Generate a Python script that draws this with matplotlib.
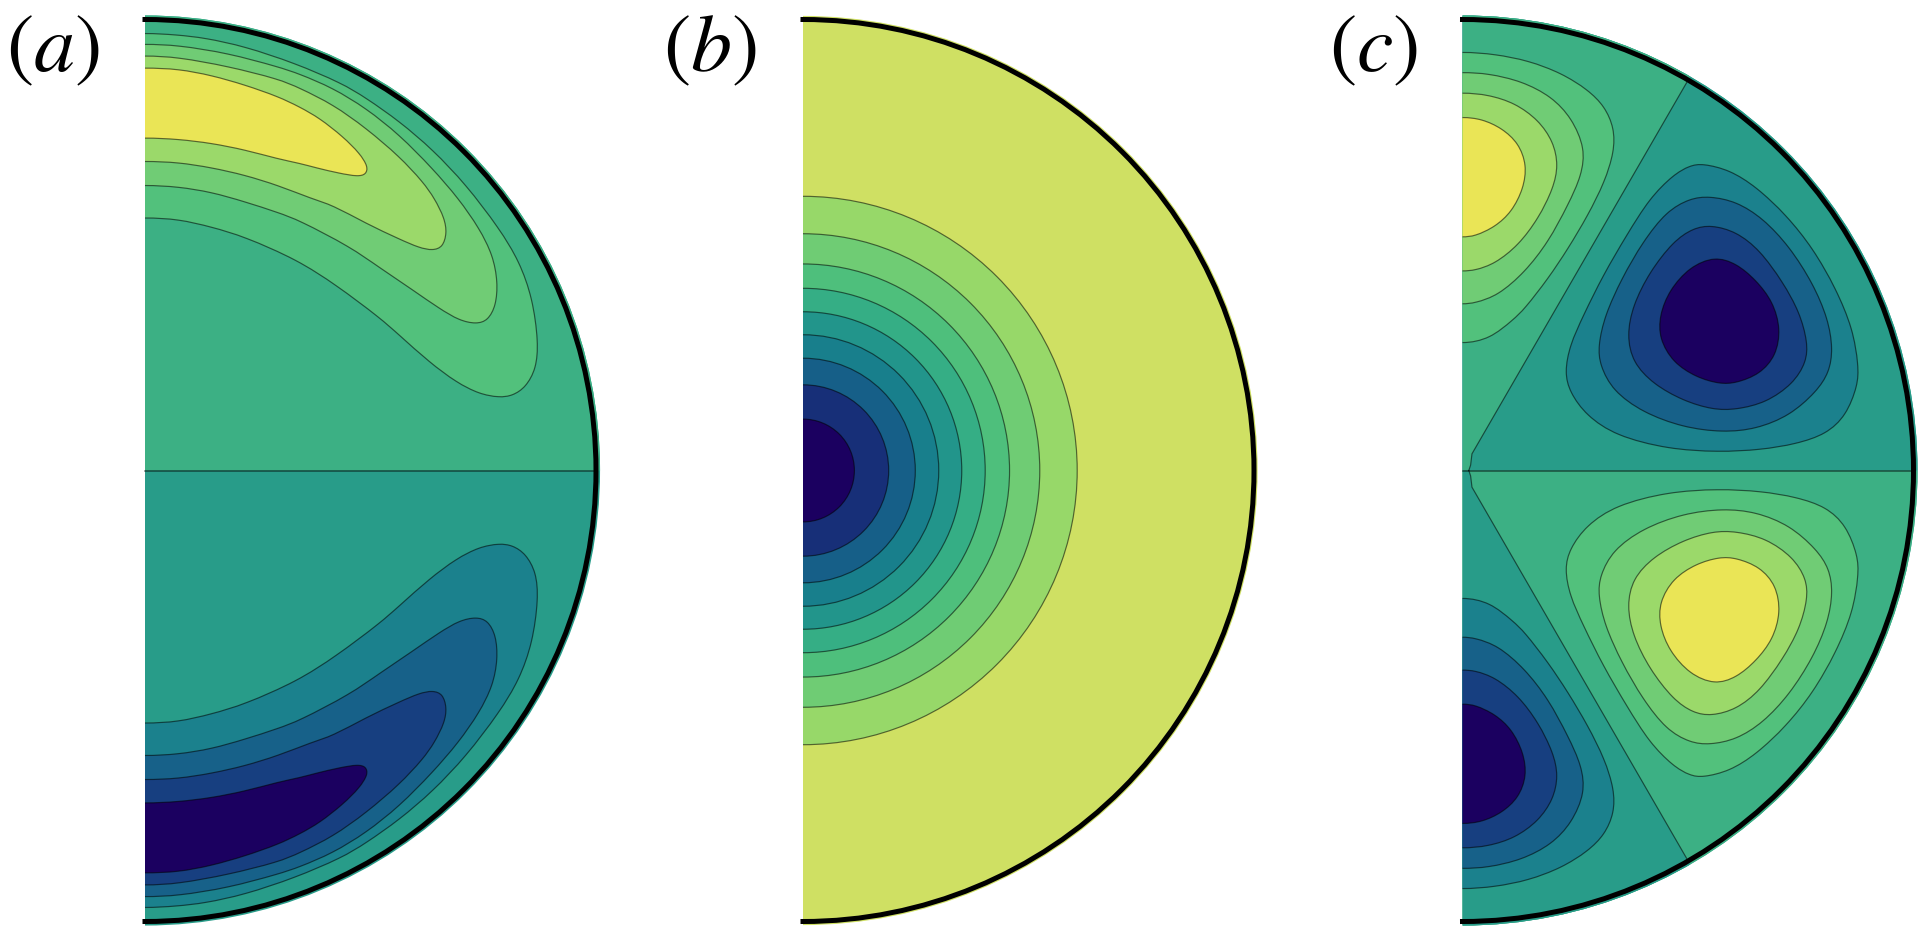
import numpy as np
import matplotlib
matplotlib.use("Agg")
import matplotlib.pyplot as plt
from matplotlib.patches import Wedge, Arc, PathPatch, Polygon
from matplotlib.path import Path

plt.rcParams['mathtext.fontset'] = 'stix'

W, H = 1927, 945

# colours of the filled levels, from the zero level outwards
light_cols = ['#3cb084', '#52c17c', '#70cc75', '#9bd96a', '#eae556']
dark_cols = ['#289c89', '#1b818d', '#176189', '#173f80', '#1b0060']

# (a) level lines of the upper half, (r, z), lower half is the mirror
a_lev1 = np.array([[0, .97], [.07, .966], [.133, .959], [.221, .94], [.332, .903], [.435, .859],
                   [.49, .826], [.564, .774], [.638, .711], [.712, .633], [.785, .537], [.83, .463],
                   [.859, .381], [.872, .285], [.867, .226], [.844, .185], [.815, .166], [.785, .162],
                   [.741, .17], [.69, .196], [.631, .24], [.564, .3], [.52, .339], [.424, .411],
                   [.337, .467], [.221, .518], [.1475, .54], [.074, .557], [0, .561]])
a_lev2 = np.array([[0, .9456], [.074, .9426], [.184, .925], [.295, .895], [.343, .879], [.416, .848],
                   [.49, .803], [.564, .744], [.637, .67], [.695, .603], [.741, .537], [.771, .477],
                   [.782, .418], [.778, .366], [.76, .333], [.734, .325], [.697, .333], [.653, .359],
                   [.594, .4], [.52, .45], [.454, .496], [.343, .554], [.295, .572], [.221, .596],
                   [.1475, .617], [.074, .629], [0, .633]])
a_lev3 = np.array([[0, .92], [.074, .916], [.184, .896], [.295, .868], [.343, .848], [.417, .811],
                   [.49, .759], [.564, .696], [.616, .64], [.642, .603], [.664, .559], [.669, .526],
                   [.66, .496], [.638, .488], [.608, .494], [.564, .513], [.49, .548], [.416, .588],
                   [.369, .603], [.295, .632], [.221, .655], [.1475, .6715], [.074, .683], [0, .686]])
a_lev4 = np.array([[0, .893], [.074, .89], [.1475, .876], [.221, .855], [.295, .829], [.343, .806],
                   [.387, .781], [.439, .74], [.476, .703], [.494, .674], [.49, .657], [.472, .652],
                   [.431, .659], [.38, .671], [.343, .681], [.295, .691], [.221, .711], [.1475, .7256],
                   [.074, .7345], [0, .738]])

# (b) radii of the level circles, outermost first
b_radii = [.608, .525, .458, .404, .352, .301, .249, .190, .114]
b_cols = ['#cfe063', '#97d869', '#6fcc74', '#4ebf7c', '#35ae85', '#22958b', '#187f8c', '#165f88',
          '#172f78', '#1b0060']

# (c) zero line, from the axis up to the boundary
c_zero = np.array([[.014, 0], [.018, .012], [.021, .037], [.497, .86], [.51, .882]])

# (c) lobe on the axis, upper half
c_axis1 = np.array([[0, .9285], [.072, .923], [.146, .9085], [.219, .881], [.278, .844], [.315, .807],
                    [.336, .759], [.336, .707], [.315, .64], [.278, .566], [.234, .492], [.19, .426],
                    [.138, .359], [.112, .334], [.061, .293], [0, .28]])
c_axis2 = np.array([[0, .883], [.057, .88], [.131, .863], [.197, .829], [.242, .781], [.271, .7145],
                    [.264, .655], [.234, .589], [.19, .507], [.138, .44], [.079, .389], [.028, .3715],
                    [0, .369]])
c_axis3 = np.array([[0, .838], [.057, .833], [.116, .8145], [.168, .777], [.201, .729], [.212, .677],
                    [.201, .6255], [.168, .559], [.124, .5], [.072, .459], [.028, .444], [0, .442]])
c_axis4 = np.array([[0, .784], [.043, .779], [.087, .759], [.124, .7255], [.142, .677], [.135, .6255],
                    [.109, .574], [.072, .5404], [.028, .52], [0, .5174]])

# (c) closed lobe away from the axis, upper half
c_blob1 = np.array([[.533, .6803], [.592, .666], [.651, .629], [.718, .566], [.777, .4922], [.828, .403],
                    [.865, .314], [.878, .233], [.876, .188], [.85, .122], [.806, .081], [.74, .059],
                    [.661, .046], [.567, .041], [.455, .048], [.341, .0774], [.275, .122], [.238, .1737],
                    [.227, .218], [.238, .277], [.268, .344], [.312, .433], [.364, .522], [.415, .603],
                    [.467, .655], [.504, .676]])
c_blob2 = np.array([[.548, .608], [.607, .596], [.666, .559], [.725, .496], [.777, .4144], [.81, .3366],
                    [.821, .27], [.813, .218], [.784, .174], [.725, .122], [.651, .0922], [.577, .0848],
                    [.489, .096], [.4, .129], [.334, .177], [.305, .233], [.301, .277], [.316, .344],
                    [.353, .4255], [.4, .507], [.452, .5737], [.504, .603]])
c_blob3 = np.array([[.552, .544], [.607, .529], [.659, .4885], [.71, .418], [.747, .351], [.765, .285],
                    [.762, .24], [.732, .192], [.673, .151], [.607, .135], [.555, .135], [.489, .155],
                    [.423, .192], [.378, .24], [.365, .2996], [.378, .366], [.415, .44], [.467, .507],
                    [.511, .537]])
c_blob4 = np.array([[.559, .474], [.607, .459], [.651, .422], [.688, .374], [.705, .314], [.695, .255],
                    [.659, .214], [.607, .194], [.57, .192], [.518, .207], [.467, .24], [.437, .292],
                    [.437, .344], [.459, .4], [.504, .451]])

labels = ['$(a)$', '$(b)$', '$(c)$']
label_x = [6, 663, 1329]

panel_x0 = [145, 803, 1462.5]
y0 = 471.5
R = 451
line_col = (0, 0, 0, .55)


def smooth(pts, closed=False, w=.85):
    # bezier segments through the read points, mostly B-spline to take out reading noise
    n = len(pts)
    if closed:
        get = lambda i: pts[i % n]
        nseg = n
    else:
        # outside the ends the line continues as its mirror in the axis
        def get(i):
            if i < 0:
                return pts[-i] * np.array([-1, 1])
            if i >= n:
                return pts[2 * n - 2 - i] * np.array([-1, 1])
            return pts[i]
        nseg = n - 1
    verts = []
    codes = []
    for i in range(nseg):
        p0, p1, p2, p3 = get(i - 1), get(i), get(i + 1), get(i + 2)
        cr = [p1, p1 + (p2 - p0) / 6, p2 - (p3 - p1) / 6, p2]
        bs = [(p0 + 4 * p1 + p2) / 6, (2 * p1 + p2) / 3, (p1 + 2 * p2) / 3, (p1 + 4 * p2 + p3) / 6]
        b = [(1 - w) * a + w * c for a, c in zip(cr, bs)]
        if i == 0:
            verts.append(b[0])
            codes.append(Path.MOVETO)
        verts += b[1:]
        codes += [Path.CURVE4] * 3
    return np.array(verts), codes


def draw_level(ax, pts, col, closed=False):
    v, c = smooth(pts, closed)
    fill = PathPatch(Path(np.vstack([v, v[:1]]), c + [Path.CLOSEPOLY]), fc=col, ec='none', lw=0)
    line = PathPatch(Path(v, c), fc='none', ec=line_col, lw=.85)
    ax.add_patch(fill)
    ax.add_patch(line)


def mirror(pts):
    return pts * np.array([1, -1])


fig = plt.figure(figsize=(W / 100, H / 100), dpi=100)
axs = []
for x0 in panel_x0:
    ax = fig.add_axes([(x0 - .05 * R) / W, (H - y0 - 1.05 * R) / H, 1.1 * R / W, 2.1 * R / H])
    ax.set_xlim(-.05, 1.05)
    ax.set_ylim(-1.05, 1.05)
    ax.axis('off')
    axs.append(ax)

# (a)
ax = axs[0]
ax.add_patch(Wedge((0, 0), 1.009, -90, 90, fc=dark_cols[0], ec='none'))
ax.add_patch(Wedge((0, 0), 1.009, 0, 90, fc=light_cols[0], ec='none'))
for i, lev in enumerate([a_lev1, a_lev2, a_lev3, a_lev4]):
    draw_level(ax, lev, light_cols[i + 1])
    draw_level(ax, mirror(lev), dark_cols[i + 1])
ax.plot([0, 1], [0, 0], color=line_col, lw=1.1)

# (b)
ax = axs[1]
ax.add_patch(Wedge((0, 0), 1.008, -90, 90, fc=b_cols[0], ec='none'))
for r, col in zip(b_radii, b_cols[1:]):
    ax.add_patch(Wedge((0, 0), r, -90, 90, fc=col, ec='none'))
    ax.add_patch(Arc((0, 0), 2 * r, 2 * r, theta1=-90, theta2=90, ec=line_col, lw=.85))

# (c)
ax = axs[2]
ax.add_patch(Wedge((0, 0), 1.009, -90, 90, fc=dark_cols[0], ec='none'))
up = Wedge((0, 0), 1.009, 0, 90, fc=dark_cols[0], ec='none')
low = Wedge((0, 0), 1.009, -90, 0, fc=light_cols[0], ec='none')
ax.add_patch(up)
ax.add_patch(low)
corner = np.array([[c_zero[-1, 0], 1.02], [0, 1.02], [0, 0]])
left_up = Polygon(np.vstack([c_zero, corner]), fc=light_cols[0], ec='none')
left_low = Polygon(mirror(np.vstack([c_zero, corner])), fc=dark_cols[0], ec='none')
ax.add_patch(left_up)
ax.add_patch(left_low)
left_up.set_clip_path(up)
left_low.set_clip_path(low)
ax.plot(c_zero[:4, 0], c_zero[:4, 1], color=line_col, lw=.85)
ax.plot(c_zero[:4, 0], -c_zero[:4, 1], color=line_col, lw=.85)
for i, lev in enumerate([c_axis1, c_axis2, c_axis3, c_axis4]):
    draw_level(ax, lev, light_cols[i + 1])
    draw_level(ax, mirror(lev), dark_cols[i + 1])
for i, lev in enumerate([c_blob1, c_blob2, c_blob3, c_blob4]):
    draw_level(ax, lev, dark_cols[i + 1], closed=True)
    draw_level(ax, mirror(lev), light_cols[i + 1], closed=True)
ax.plot([0, 1], [0, 0], color=line_col, lw=1.1)

# black boundary
for ax in axs:
    ax.add_patch(Arc((0, 0), 2, 2, theta1=-90, theta2=90, ec='black', lw=3.6, capstyle='projecting'))

for lab, x in zip(labels, label_x):
    fig.text(x / W, (H - 71) / H, lab, fontsize=59, ha='left', va='baseline', color='black')

fig.savefig("out.png", dpi=100)
